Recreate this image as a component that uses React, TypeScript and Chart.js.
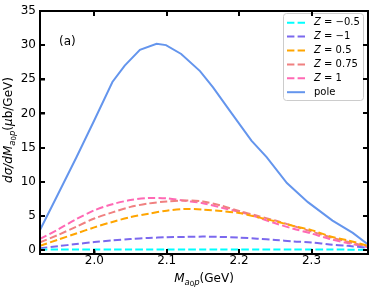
import React, { useEffect, useRef, useState } from "react";
import { Chart, registerables } from "chart.js";

Chart.register(...registerables);

// ---- data ----
const xGrid = [1.925, 1.95, 1.975, 2.0, 2.025, 2.05, 2.075, 2.1, 2.125, 2.15, 2.175, 2.2, 2.225, 2.25, 2.275, 2.3, 2.325, 2.35, 2.378];
const zMinus05 = [0.04, 0.05, 0.05, 0.05, 0.06, 0.06, 0.06, 0.06, 0.06, 0.06, 0.06, 0.06, 0.06, 0.05, 0.05, 0.05, 0.05, 0.04, 0.03];
const zMinus1 = [0.25, 0.55, 0.85, 1.15, 1.4, 1.6, 1.75, 1.85, 1.9, 1.95, 1.9, 1.8, 1.65, 1.45, 1.25, 1.1, 0.8, 0.6, 0.3];
const z05 = [0.6, 1.5, 2.4, 3.3, 4.1, 4.8, 5.3, 5.75, 6.0, 5.9, 5.7, 5.4, 4.8, 4.2, 3.5, 2.9, 2.0, 1.4, 0.6];
const z075 = [1.1, 2.2, 3.4, 4.6, 5.5, 6.3, 6.8, 7.1, 7.25, 7.1, 6.5, 5.7, 5.0, 4.3, 3.5, 2.7, 1.9, 1.2, 0.5];
const z1 = [1.6, 3.0, 4.5, 5.8, 6.7, 7.3, 7.6, 7.55, 7.2, 6.85, 6.2, 5.6, 4.8, 3.9, 3.1, 2.4, 1.6, 1.0, 0.4];
const poleX = [1.925, 1.95, 1.975, 2.0, 2.025, 2.042, 2.063, 2.086, 2.099, 2.12, 2.146, 2.164, 2.187, 2.217, 2.238, 2.266, 2.295, 2.329, 2.357, 2.378];
const poleY = [2.9, 8.2, 13.5, 19.0, 24.6, 27.0, 29.3, 30.2, 30.0, 28.7, 26.2, 23.8, 20.4, 16.0, 13.6, 9.8, 7.0, 4.3, 2.5, 0.8];
const xTicks = [2.0, 2.1, 2.2, 2.3];
const yTicks = [0, 5, 10, 15, 20, 25, 30, 35];

const FONT = "'DejaVu Sans', sans-serif";
const DASH = [7.4, 3.2];

const series = [
  { z: "-0.5", ys: zMinus05, color: "#00ffff" },
  { z: "-1", ys: zMinus1, color: "#7b68ee" },
  { z: "0.5", ys: z05, color: "#ffa500" },
  { z: "0.75", ys: z075, color: "#f08080" },
  { z: "1", ys: z1, color: "#ff69b4" },
];

type Seg = { t: string; f: string; dy?: number };

function richWidth(ctx: CanvasRenderingContext2D, segs: Seg[]) {
  let w = 0;
  for (const s of segs) {
    ctx.font = s.f;
    w += ctx.measureText(s.t).width;
  }
  return w;
}
function drawRich(ctx: CanvasRenderingContext2D, segs: Seg[], x: number, y: number) {
  let cx = x;
  for (const s of segs) {
    ctx.font = s.f;
    ctx.fillText(s.t, cx, y + (s.dy || 0));
    cx += ctx.measureText(s.t).width;
  }
}

const decor = {
  id: "decor",
  afterDraw(chart: any) {
    const ctx: CanvasRenderingContext2D = chart.ctx;
    const ca = chart.chartArea;
    ctx.save();
    ctx.fillStyle = "#000";
    ctx.textBaseline = "alphabetic";
    ctx.textAlign = "left";
    ctx.font = `12px ${FONT}`;
    ctx.fillText("(a)", 59, 45);

    const it = `italic 12px ${FONT}`;
    const itS = `italic 8.5px ${FONT}`;
    const nS = `7px ${FONT}`;
    const rg = `12px ${FONT}`;
    const xt: Seg[] = [
      { t: "M", f: it },
      { t: "a", f: itS, dy: 2.5 },
      { t: "0", f: nS, dy: 4 },
      { t: "p", f: itS, dy: 2.5 },
      { t: "(GeV)", f: rg },
    ];
    const xw = richWidth(ctx, xt);
    drawRich(ctx, xt, (ca.left + ca.right) / 2 - xw / 2, 282);

    const yt: Seg[] = [
      { t: "dσ/dM", f: it },
      { t: "a", f: itS, dy: 2.5 },
      { t: "0", f: nS, dy: 4 },
      { t: "p", f: itS, dy: 2.5 },
      { t: "(", f: rg },
      { t: "μ", f: it },
      { t: "b/GeV)", f: rg },
    ];
    const yw = richWidth(ctx, yt);
    ctx.save();
    ctx.translate(12, 130);
    ctx.rotate(-Math.PI / 2);
    drawRich(ctx, yt, -yw / 2, 0);
    ctx.restore();

    // legend
    const bx = 283.5, by = 13.5, bw = 80, bh = 87;
    ctx.beginPath();
    const r = 3;
    ctx.moveTo(bx + r, by);
    ctx.arcTo(bx + bw, by, bx + bw, by + bh, r);
    ctx.arcTo(bx + bw, by + bh, bx, by + bh, r);
    ctx.arcTo(bx, by + bh, bx, by, r);
    ctx.arcTo(bx, by, bx + bw, by, r);
    ctx.closePath();
    ctx.fillStyle = "rgba(255,255,255,0.8)";
    ctx.fill();
    ctx.strokeStyle = "#cccccc";
    ctx.lineWidth = 1;
    ctx.stroke();

    const entries = series.map((s) => ({ label: s.z, color: s.color, dashed: true }));
    entries.push({ label: "pole", color: "#6495ed", dashed: false });
    ctx.textBaseline = "middle";
    entries.forEach((e, i) => {
      const ey = 22.7 + i * 13.9;
      ctx.strokeStyle = e.color;
      ctx.lineWidth = 2;
      ctx.setLineDash(e.dashed ? DASH : []);
      ctx.beginPath();
      ctx.moveTo(287, ey);
      ctx.lineTo(305, ey);
      ctx.stroke();
      ctx.setLineDash([]);
      ctx.fillStyle = "#000";
      if (e.label === "pole") {
        ctx.font = `10px ${FONT}`;
        ctx.fillText("pole", 314, ey);
      } else {
        const neg = e.label.startsWith("-");
        const segs: Seg[] = [
          { t: "Z", f: `italic 10px ${FONT}` },
          { t: " = " + (neg ? "\u2212" : ""), f: `10px ${FONT}` },
          { t: neg ? e.label.slice(1) : e.label, f: `10px ${FONT}` },
        ];
        drawRich(ctx, segs, 314, ey);
      }
    });
    ctx.restore();
  },
};

const axisGrid = {
  display: true,
  drawOnChartArea: false,
  drawTicks: true,
  tickLength: -5,
  color: "#000",
  lineWidth: 1.5,
};
const axisBorder = { display: true, color: "#000", width: 2 };

type FrameInfo = { L: number; R: number; T: number; B: number; px: number[]; py: number[] };

export default function App() {
  const ref = useRef<HTMLCanvasElement>(null);
  const [frame, setFrame] = useState<FrameInfo | null>(null);
  useEffect(() => {
    document.body.style.margin = "0";
    const datasets: any[] = series.map((s) => ({
      label: "Z = " + s.z,
      data: xGrid.map((x, i) => ({ x, y: s.ys[i] })),
      borderColor: s.color,
      backgroundColor: s.color,
      borderWidth: 2,
      borderDash: DASH,
      pointRadius: 0,
      tension: 0.3,
      fill: false,
    }));
    datasets.push({
      label: "pole",
      data: poleX.map((x, i) => ({ x, y: poleY[i] })),
      borderColor: "#6495ed",
      backgroundColor: "#6495ed",
      borderWidth: 2,
      pointRadius: 0,
      tension: 0,
      fill: false,
    });
    const chart = new Chart(ref.current!, {
      type: "line",
      data: { datasets },
      plugins: [decor],
      options: {
        animation: false,
        responsive: false,
        devicePixelRatio: 1,
        layout: { padding: { top: 11, right: 6, left: 0, bottom: 0 } },
        plugins: { legend: { display: false }, title: { display: false }, tooltip: { enabled: false } },
        scales: {
          x: {
            type: "linear",
            min: 1.925,
            max: 2.378,
            grid: axisGrid,
            border: axisBorder,
            afterBuildTicks: (s: any) => {
              s.ticks = xTicks.map((v) => ({ value: v }));
            },
            afterFit: (s: any) => {
              s.height = 37;
              s.paddingLeft = 0;
              s.paddingRight = 0;
            },
            ticks: {
              color: "#000",
              font: { family: "DejaVu Sans", size: 12 },
              padding: 5,
              maxRotation: 0,
              autoSkip: false,
              callback: (v: any) => Number(v).toFixed(1),
            },
          },
          y: {
            type: "linear",
            min: -0.6,
            max: 35,
            grid: axisGrid,
            border: axisBorder,
            afterBuildTicks: (s: any) => {
              s.ticks = yTicks.map((v) => ({ value: v }));
            },
            afterFit: (s: any) => {
              s.width = 40;
              s.paddingTop = 0;
              s.paddingBottom = 0;
            },
            ticks: {
              color: "#000",
              font: { family: "DejaVu Sans", size: 12 },
              padding: 9,
              autoSkip: false,
              callback: (v: any) => String(v),
            },
          },
        },
      } as any,
    });
    const ca = chart.chartArea;
    setFrame({
      L: Math.round(ca.left),
      R: Math.round(ca.right),
      T: Math.round(ca.top),
      B: Math.round(ca.bottom),
      px: xTicks.map((v) => Math.round(chart.scales.x.getPixelForValue(v))),
      py: yTicks.map((v) => Math.round(chart.scales.y.getPixelForValue(v))),
    });
    return () => chart.destroy();
  }, []);

  const bar = (key: string, left: number, top: number, width: number, height: number) => (
    <div key={key} style={{ position: "absolute", left, top, width, height, background: "#000" }} />
  );

  return (
    <div style={{ width: 374, height: 291, position: "relative" }}>
      <canvas ref={ref} width={374} height={291} style={{ display: "block" }} />
      {frame && (
        <>
          {bar("fl", frame.L - 1, frame.T - 1, 2, frame.B - frame.T + 2)}
          {bar("fr", frame.R - 1, frame.T - 1, 2, frame.B - frame.T + 2)}
          {bar("ft", frame.L - 1, frame.T - 1, frame.R - frame.L + 2, 2)}
          {bar("fb", frame.L - 1, frame.B - 1, frame.R - frame.L + 2, 2)}
          {frame.px.map((p, i) => bar("xb" + i, p - 0.75, frame.B - 5, 1.5, 5))}
          {frame.px.map((p, i) => bar("xt" + i, p - 0.75, frame.T, 1.5, 5))}
          {frame.py.map((p, i) => bar("yl" + i, frame.L, p - 0.75, 5, 1.5))}
          {frame.py.map((p, i) => bar("yr" + i, frame.R - 5, p - 0.75, 5, 1.5))}
        </>
      )}
    </div>
  );
}
